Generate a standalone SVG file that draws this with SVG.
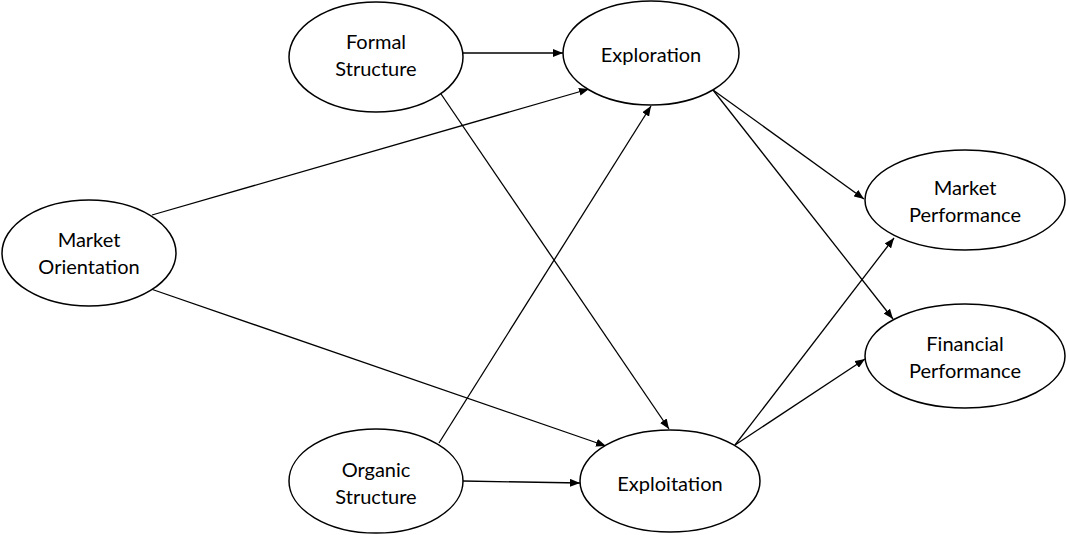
<svg xmlns="http://www.w3.org/2000/svg" width="1066" height="535" viewBox="0 0 1066 535">
<defs>
<style>
.n{fill:#fff;stroke:#000;stroke-width:1.5}
.t{font-family:Lato,"Liberation Sans",sans-serif;font-size:20px;fill:#000;text-anchor:middle}
.c{stroke:#000;stroke-width:1.3;fill:none;marker-end:url(#ah)}
</style>
<marker id="ah" viewBox="0 0 10 8" refX="10" refY="4" markerWidth="10" markerHeight="8" markerUnits="userSpaceOnUse" orient="auto">
<path d="M0,0 L10,4 L0,8 Z" fill="#000"/>
</marker>
</defs>
<rect width="1066" height="535" fill="#fff"/>
<g id="connectors">
<line class="c" x1="463" y1="53" x2="563" y2="53"/>
<line class="c" x1="152" y1="215" x2="589" y2="89"/>
<line class="c" x1="151" y1="289" x2="606" y2="446"/>
<line class="c" x1="439" y1="91" x2="669" y2="429"/>
<line class="c" x1="439" y1="443" x2="651" y2="106"/>
<line class="c" x1="463" y1="481" x2="580" y2="483"/>
<line class="c" x1="713" y1="90" x2="864" y2="199"/>
<line class="c" x1="713" y1="90" x2="893" y2="319"/>
<line class="c" x1="735" y1="445" x2="894" y2="238"/>
<line class="c" x1="735" y1="445" x2="865" y2="359"/>
</g>
<g id="formal">
<ellipse class="n" cx="376" cy="57" rx="87" ry="55"/>
<text class="t" x="376" y="49">Formal</text>
<text class="t" x="376" y="76">Structure</text>
</g>
<g id="exploration">
<ellipse class="n" cx="651" cy="53" rx="88" ry="52"/>
<text class="t" x="651" y="62">Exploration</text>
</g>
<g id="orientation">
<ellipse class="n" cx="89" cy="253" rx="87" ry="53"/>
<text class="t" x="89" y="247">Market</text>
<text class="t" x="89" y="274">Orientation</text>
</g>
<g id="marketperf">
<ellipse class="n" cx="965" cy="200" rx="100" ry="50"/>
<text class="t" x="965" y="195">Market</text>
<text class="t" x="965" y="222">Performance</text>
</g>
<g id="finperf">
<ellipse class="n" cx="965" cy="356" rx="100" ry="52"/>
<text class="t" x="965" y="351">Financial</text>
<text class="t" x="965" y="378">Performance</text>
</g>
<g id="organic">
<ellipse class="n" cx="376" cy="481" rx="87" ry="52"/>
<text class="t" x="376" y="477">Organic</text>
<text class="t" x="376" y="504">Structure</text>
</g>
<g id="exploitation">
<ellipse class="n" cx="670" cy="481" rx="90" ry="51"/>
<text class="t" x="670" y="491">Exploitation</text>
</g>
</svg>
